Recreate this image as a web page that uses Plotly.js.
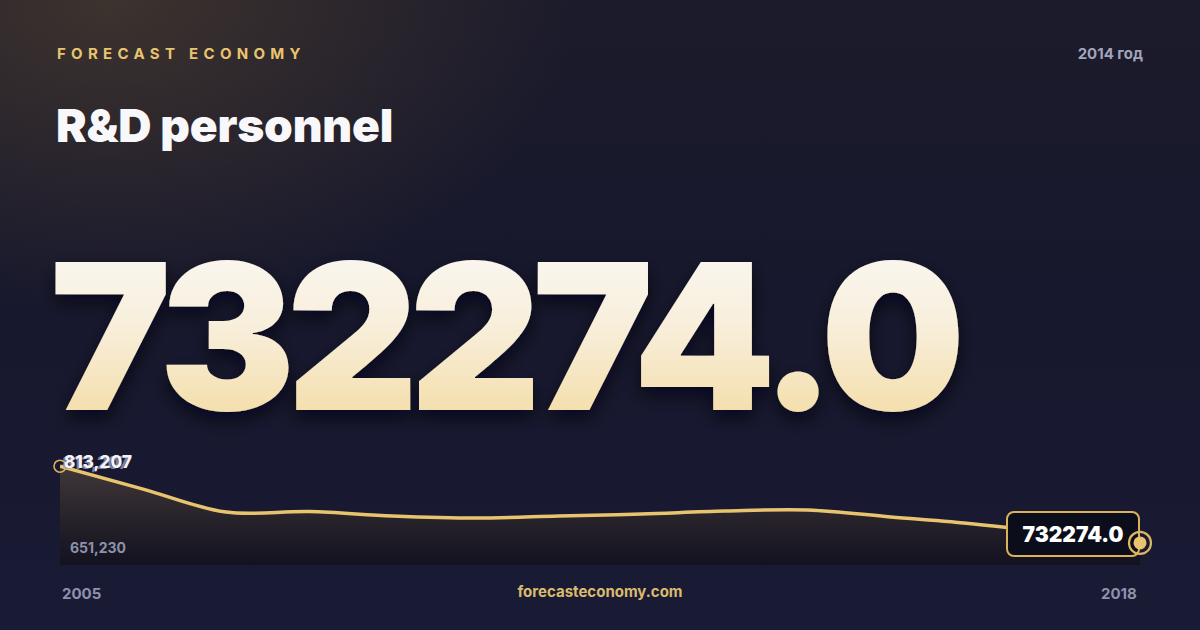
<!DOCTYPE html>
<html>
<head>
<meta charset="utf-8">
<script src="https://cdn.plot.ly/plotly-3.0.1.min.js"></script>
<style>
  html, body { margin: 0; padding: 0; }
  body {
    width: 1200px; height: 630px; overflow: hidden; position: relative;
    background:
      radial-gradient(ellipse 620px 420px at 110px 0px, rgba(88,70,48,0.55), rgba(88,70,48,0) 75%),
      linear-gradient(180deg, #1c1b2b 0%, #17182d 45%, #191a34 100%);
    font-family: Inter, "Noto Sans", sans-serif;
  }
  #deco { position: absolute; left: 0; top: 0; }
  #chart { position: absolute; left: 0; top: 0; width: 1200px; height: 630px; }
</style>
</head>
<body>
<svg id="deco" width="1200" height="630"></svg>
<div id="chart"></div>
<script>
// donnees
const years = [2005, 2006, 2007, 2008, 2009, 2010, 2011, 2012, 2013, 2014, 2015, 2016, 2017, 2018];
const values = [813207, 789000, 764800, 765400, 760700, 758500, 760600, 762800, 765900, 767000, 759600, 752300, 742800, 732274];
const lowLabel = 651230;
const yearLabel = '2014 год';
const brand = 'FORECAST ECONOMY';
const title = 'R&D personnel';
const site = 'forecasteconomy.com';

const gold = '#e9c46f';
const grey = '#8e92ad';
const yLow = 709000, yHigh = 825000;

const last = values[values.length - 1];
const lastYear = years[years.length - 1];
const maxVal = Math.max(...values);
const fmt = v => v.toLocaleString('en-US');

/** textes d'en-tete et de pied de page */
const svg = document.getElementById('deco');
svg.innerHTML = `
  <defs>
    <linearGradient id="big" x1="0" y1="0" x2="0" y2="1">
      <stop offset="0" stop-color="#fbfbfb"/>
      <stop offset="0.45" stop-color="#f8efdc"/>
      <stop offset="1" stop-color="#f2d694"/>
    </linearGradient>
    <filter id="shadow" x="-10%" y="-20%" width="120%" height="150%">
      <feDropShadow dx="0" dy="8" stdDeviation="9" flood-color="#05060f" flood-opacity="0.7"/>
    </filter>
  </defs>
  <text x="57" y="59" font-size="15" font-weight="700" letter-spacing="5.3" fill="${gold}">${brand}</text>
  <text x="1143" y="59" font-size="15" font-weight="700" fill="#a2a5bb" text-anchor="end">${yearLabel}</text>
  <text x="56" y="142" font-size="46" font-weight="900" letter-spacing="-0.2" fill="#f8f8fb">${title.replace('&', '&amp;')}</text>
  <text x="50" y="410" font-size="204" font-weight="900" letter-spacing="-9" fill="url(#big)" filter="url(#shadow)">${last.toFixed(1)}</text>
  <text x="600" y="597" font-size="15" font-weight="700" fill="#dcbb6c" text-anchor="middle">${site}</text>
`;

var data = [{
    x: years,
    y: values,
    mode: 'lines',
    line: { color: gold, width: 3.5, shape: 'spline', smoothing: 1 },
    fill: 'tozeroy',
    fillgradient: {
        type: 'vertical',
        start: yLow,
        stop: maxVal,
        colorscale: [[0, 'rgba(18,17,30,0.95)'], [1, 'rgba(66,56,56,0.95)']],
    },
    hoverinfo: 'skip',
},
{
    // point de depart
    x: [years[0]],
    y: [values[0]],
    mode: 'markers',
    cliponaxis: false,
    marker: { size: 12, color: 'rgba(0,0,0,0)', line: { color: '#d9b25a', width: 1.6 } },
    hoverinfo: 'skip',
},
{
    // point final : anneau
    x: [lastYear],
    y: [last],
    mode: 'markers',
    cliponaxis: false,
    marker: { size: 22, color: 'rgba(0,0,0,0)', line: { color: '#dcb660', width: 2.2 } },
    hoverinfo: 'skip',
},
{
    // point final : disque
    x: [lastYear],
    y: [last],
    mode: 'markers',
    cliponaxis: false,
    marker: { size: 13, color: gold, line: { width: 0 } },
    hoverinfo: 'skip',
}];

var annotations = [
    { // etiquette du maximum (doublee)
        x: years[0], y: maxVal, xref: 'x', yref: 'y', showarrow: false,
        xanchor: 'left', yanchor: 'middle', xshift: 0, yshift: 3,
        text: fmt(maxVal), font: { family: 'Inter', size: 17, color: 'rgba(150,155,185,0.8)', weight: 700 },
    },
    {
        x: years[0], y: maxVal, xref: 'x', yref: 'y', showarrow: false,
        xanchor: 'left', yanchor: 'middle', xshift: 2, yshift: 4,
        text: fmt(maxVal), font: { family: 'Inter', size: 17, color: '#f4f4f8', weight: 800 },
    },
    {
        x: 0, y: 0, xref: 'paper', yref: 'paper', showarrow: false,
        xanchor: 'left', yanchor: 'bottom', xshift: 8, yshift: 7,
        text: fmt(lowLabel), font: { family: 'Inter', size: 14, color: grey, weight: 700 },
    },
    { // valeur finale encadree
        x: lastYear, y: last, xref: 'x', yref: 'y', showarrow: false,
        xanchor: 'right', yanchor: 'middle', yshift: 9,
        text: last.toFixed(1), font: { family: 'Inter', size: 21, color: '#ffffff', weight: 900 },
        bgcolor: '#0b0d1b', bordercolor: '#d9b25a', borderwidth: 2, borderpad: 5,
        width: 120, height: 32,
    },
    { // annees en bas
        x: years[0], y: 0, xref: 'x', yref: 'paper', showarrow: false,
        xanchor: 'left', yanchor: 'top', xshift: 0, yshift: -17,
        text: String(years[0]), font: { family: 'Inter', size: 15, color: grey, weight: 700 },
    },
    {
        x: lastYear, y: 0, xref: 'x', yref: 'paper', showarrow: false,
        xanchor: 'right', yanchor: 'top', xshift: -1, yshift: -17,
        text: String(lastYear), font: { family: 'Inter', size: 15, color: grey, weight: 700 },
    },
];

var layout = {
    width: 1200,
    height: 630,
    paper_bgcolor: 'rgba(0,0,0,0)',
    plot_bgcolor: 'rgba(0,0,0,0)',
    margin: { l: 60, r: 60, t: 455, b: 65, pad: 0 },
    showlegend: false,
    xaxis: {
        range: [years[0], lastYear],
        visible: false, fixedrange: true,
    },
    yaxis: {
        range: [yLow, yHigh],
        visible: false, fixedrange: true,
    },
    annotations: annotations,
};

function finition() {
    let box = null;
    // coins arrondis pour le cadre de la valeur finale
    document.querySelectorAll('#chart .annotation rect.bg').forEach(r => {
        if ((r.getAttribute('style') || '').indexOf('rgb(11, 13, 27)') >= 0) {
            r.setAttribute('rx', 7); r.setAttribute('ry', 7);
            box = r;
        }
    });
    // le point final passe au-dessus du cadre
    const traces = document.querySelectorAll('#chart .scatterlayer .trace');
    if (!box || traces.length < 4) return;
    const holder = traces[0].closest('.scatterlayer').parentNode;
    const g = document.createElementNS('http://www.w3.org/2000/svg', 'g');
    g.setAttribute('transform', holder.getAttribute('transform') || '');
    box.closest('svg').appendChild(g);
    g.appendChild(traces[traces.length - 2]);
    g.appendChild(traces[traces.length - 1]);
}

Plotly.newPlot('chart', data, layout, { staticPlot: true, displayModeBar: false }).then(finition);
</script>
</body>
</html>
